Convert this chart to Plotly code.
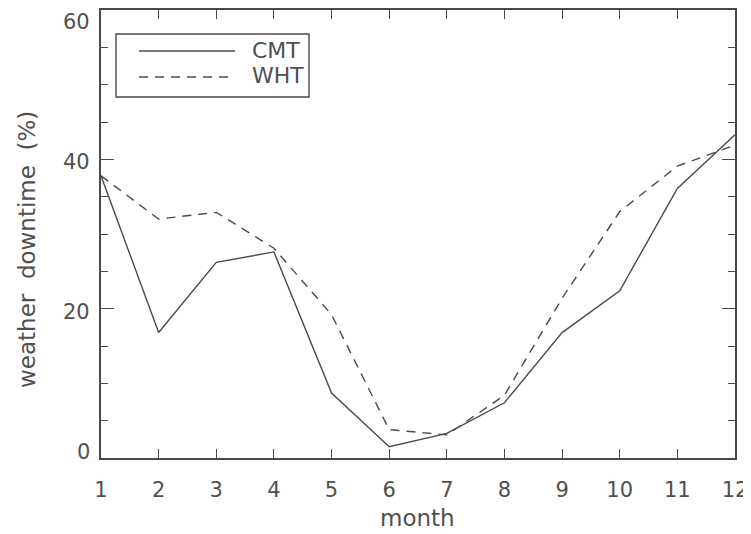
import plotly.graph_objects as go

months = [1, 2, 3, 4, 5, 6, 7, 8, 9, 10, 11, 12]
cmt = [37.8, 16.8, 26.2, 27.6, 8.7, 1.5, 3.3, 7.4, 16.8, 22.4, 36.1, 43.3]
wht = [37.8, 32.0, 32.9, 28.1, 19.2, 3.8, 3.1, 8.4, 21.4, 33.0, 39.1, 41.9]
y_ticks = [0, 20, 40, 60]
y_minor = [5, 10, 15, 25, 30, 35, 45, 50, 55]
legend_names = ["CMT", "WHT"]
x_title = "month"
y_title = "weather\u00a0\u00a0downtime\u00a0\u00a0(%)"

# the page body has an 8px margin; size the figure so the plot lands where the reference has it
OFF = 8
W, H = 751 - OFF, 534 - OFF
PL, PT, PR, PB = 101, 10, 735, 458          # plot area in page pixels
L, T = PL - OFF, PT - OFF
R, B = (W + OFF) - PR, (H + OFF) - PB

def px(x):
    return (x - PL) / (PR - PL)

def py(y):
    return (PB - y) / (PB - PT)

ink = "#4a4a4a"
tick_font = dict(family="DejaVu Sans", size=21, color="#505050")
text_font = dict(family="DejaVu Sans", size=22, color="#505050")
title_font = dict(family="DejaVu Sans", size=23, color="#505050")

fig = go.Figure()
fig.add_trace(go.Scatter(x=months, y=cmt, mode="lines", name=legend_names[0],
                         line=dict(color=ink, width=1.4), showlegend=False))
fig.add_trace(go.Scatter(x=months, y=wht, mode="lines", name=legend_names[1],
                         line=dict(color=ink, width=1.4, dash="9px,7px"), showlegend=False))

# legend box drawn manually (IDL-style)
fig.add_shape(type="rect", xref="paper", yref="paper",
              x0=px(116), x1=px(309), y0=py(97), y1=py(34),
              line=dict(color=ink, width=1.4), fillcolor="white")
fig.add_shape(type="line", xref="paper", yref="paper",
              x0=px(139), x1=px(235), y0=py(51), y1=py(51),
              line=dict(color=ink, width=1.4))
fig.add_shape(type="line", xref="paper", yref="paper",
              x0=px(139), x1=px(228), y0=py(77), y1=py(77),
              line=dict(color=ink, width=1.4, dash="9px,7px"))
for name, yy in zip(legend_names, [50, 75]):
    fig.add_annotation(text=name, xref="paper", yref="paper",
                       x=px(250), y=py(yy),
                       xanchor="left", yanchor="middle", showarrow=False,
                       font=text_font)

# y tick labels (IDL keeps end labels inside the axis range)
for v in y_ticks:
    if v == y_ticks[0]:
        anchor, shift = "bottom", -8
    elif v == y_ticks[-1]:
        anchor, shift = "top", 2
    else:
        anchor, shift = "middle", -3
    fig.add_annotation(text=str(v), xref="paper", yref="y", x=0, y=v,
                       xanchor="right", yanchor=anchor, xshift=-9, yshift=shift,
                       showarrow=False, font=tick_font)

fig.add_annotation(text=x_title, xref="paper", yref="paper", x=px(417), y=py(518),
                   xanchor="center", yanchor="middle", showarrow=False, font=title_font)
fig.add_annotation(text=y_title, xref="paper", yref="paper", x=px(27), y=py(250),
                   xanchor="center", yanchor="middle", showarrow=False, textangle=-90,
                   font=title_font)

fig.update_xaxes(range=[1, 12], tickmode="array", tickvals=months,
                 ticktext=[str(m) for m in months],
                 ticks="inside", ticklen=9, tickwidth=1.4, tickcolor=ink,
                 showline=True, linecolor=ink, linewidth=1.5, mirror="ticks",
                 showgrid=False, zeroline=False, tickfont=tick_font,
                 ticklabelstandoff=12, ticklabeloverflow="allow", automargin=False)
fig.update_yaxes(range=[0, 60], tickmode="array", tickvals=y_ticks, showticklabels=False,
                 ticks="inside", ticklen=13, tickwidth=1.4, tickcolor=ink,
                 minor=dict(tickvals=y_minor,
                            ticks="inside", ticklen=7, tickwidth=1.4, tickcolor=ink,
                            showgrid=False),
                 showline=True, linecolor=ink, linewidth=1.5, mirror="ticks",
                 showgrid=False, zeroline=False, automargin=False)

fig.update_layout(width=W, height=H, plot_bgcolor="white", paper_bgcolor="white",
                  margin=dict(l=L, r=R, t=T, b=B), showlegend=False)

fig.write_html("out.html")
